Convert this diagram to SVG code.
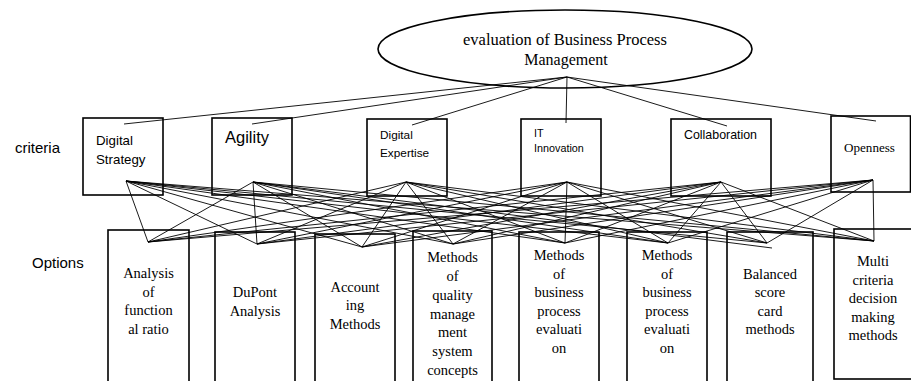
<svg xmlns="http://www.w3.org/2000/svg" width="911" height="381" viewBox="0 0 911 381">
  <style>
    .box { fill: none; stroke: #000; stroke-width: 1.6; }
    .edge { stroke: #000; stroke-width: 0.9; fill: none; }
    .sans { font-family: "Liberation Sans", Arial, sans-serif; fill: #000; }
    .serif { font-family: "Liberation Serif", "Times New Roman", serif; fill: #000; text-anchor: middle; }
    .opt { font-size: 14.5px; }
  </style>
  <rect width="911" height="381" fill="#fff"/>

  <!-- side labels -->
  <text class="sans" x="15" y="153" font-size="15">criteria</text>
  <text class="sans" x="32" y="268" font-size="15">Options</text>

  <!-- goal -->
  <g id="goal">
    <ellipse cx="565" cy="49" rx="187" ry="39" fill="none" stroke="#000" stroke-width="1.6"/>
    <text class="serif" x="565" y="45" font-size="16.5">evaluation of Business Process</text>
    <text class="serif" x="566" y="65" font-size="16">Management</text>
  </g>

  <!-- connectors -->
  <g id="connectors">
    <!-- goal to criteria -->
    <line class="edge" x1="567" y1="77" x2="124" y2="124"/>
    <line class="edge" x1="567" y1="77" x2="252" y2="124"/>
    <line class="edge" x1="567" y1="77" x2="412" y2="125"/>
    <line class="edge" x1="567" y1="77" x2="566" y2="123"/>
    <line class="edge" x1="567" y1="77" x2="727" y2="126"/>
    <line class="edge" x1="567" y1="77" x2="876" y2="121"/>

    <!-- Digital Strategy to options -->
    <line class="edge" x1="126" y1="181" x2="148" y2="242"/>
    <line class="edge" x1="126" y1="181" x2="257" y2="244"/>
    <line class="edge" x1="126" y1="181" x2="362" y2="247"/>
    <line class="edge" x1="126" y1="181" x2="453" y2="244"/>
    <line class="edge" x1="126" y1="181" x2="565" y2="243"/>
    <line class="edge" x1="126" y1="181" x2="668" y2="243"/>
    <line class="edge" x1="126" y1="181" x2="767" y2="243"/>
    <line class="edge" x1="126" y1="181" x2="874" y2="241"/>
    <!-- Agility to options -->
    <line class="edge" x1="253" y1="182" x2="148" y2="242"/>
    <line class="edge" x1="253" y1="182" x2="257" y2="244"/>
    <line class="edge" x1="253" y1="182" x2="362" y2="247"/>
    <line class="edge" x1="253" y1="182" x2="453" y2="244"/>
    <line class="edge" x1="253" y1="182" x2="565" y2="243"/>
    <line class="edge" x1="253" y1="182" x2="668" y2="243"/>
    <line class="edge" x1="253" y1="182" x2="772" y2="248"/>
    <line class="edge" x1="253" y1="182" x2="874" y2="241"/>
    <!-- Digital Expertise to options -->
    <line class="edge" x1="406" y1="182" x2="148" y2="242"/>
    <line class="edge" x1="406" y1="182" x2="257" y2="244"/>
    <line class="edge" x1="406" y1="182" x2="362" y2="247"/>
    <line class="edge" x1="406" y1="182" x2="453" y2="244"/>
    <line class="edge" x1="406" y1="182" x2="565" y2="243"/>
    <line class="edge" x1="406" y1="182" x2="668" y2="243"/>
    <line class="edge" x1="406" y1="182" x2="767" y2="243"/>
    <line class="edge" x1="406" y1="182" x2="874" y2="241"/>
    <!-- IT Innovation to options -->
    <line class="edge" x1="567" y1="182" x2="148" y2="242"/>
    <line class="edge" x1="567" y1="182" x2="257" y2="244"/>
    <line class="edge" x1="567" y1="182" x2="362" y2="247"/>
    <line class="edge" x1="567" y1="182" x2="453" y2="244"/>
    <line class="edge" x1="567" y1="182" x2="565" y2="243"/>
    <line class="edge" x1="567" y1="182" x2="668" y2="243"/>
    <line class="edge" x1="567" y1="182" x2="767" y2="243"/>
    <line class="edge" x1="567" y1="182" x2="874" y2="241"/>
    <!-- Collaboration to options -->
    <line class="edge" x1="721" y1="182" x2="148" y2="242"/>
    <line class="edge" x1="721" y1="182" x2="257" y2="244"/>
    <line class="edge" x1="721" y1="182" x2="362" y2="247"/>
    <line class="edge" x1="721" y1="182" x2="453" y2="244"/>
    <line class="edge" x1="721" y1="182" x2="565" y2="243"/>
    <line class="edge" x1="721" y1="182" x2="668" y2="243"/>
    <line class="edge" x1="721" y1="182" x2="767" y2="243"/>
    <line class="edge" x1="721" y1="182" x2="874" y2="241"/>
    <!-- Openness to options -->
    <line class="edge" x1="873" y1="180" x2="148" y2="242"/>
    <line class="edge" x1="873" y1="180" x2="257" y2="244"/>
    <line class="edge" x1="873" y1="180" x2="362" y2="247"/>
    <line class="edge" x1="873" y1="180" x2="453" y2="244"/>
    <line class="edge" x1="873" y1="180" x2="565" y2="243"/>
    <line class="edge" x1="873" y1="180" x2="668" y2="243"/>
    <line class="edge" x1="873" y1="180" x2="767" y2="243"/>
    <line class="edge" x1="873" y1="180" x2="874" y2="241"/>
  </g>

  <!-- criteria -->
  <g id="c-digital-strategy">
    <rect class="box" x="83" y="118" width="80" height="77"/>
    <text class="sans" x="96" y="145" font-size="13.3">Digital</text>
    <text class="sans" x="96" y="164" font-size="13.3">Strategy</text>
  </g>
  <g id="c-agility">
    <rect class="box" x="212" y="118" width="80" height="77"/>
    <text class="sans" x="225" y="143" font-size="16.5">Agility</text>
  </g>
  <g id="c-digital-expertise">
    <rect class="box" x="367" y="119" width="80" height="77"/>
    <text class="sans" x="380" y="139" font-size="11.8">Digital</text>
    <text class="sans" x="380" y="157" font-size="11.8">Expertise</text>
  </g>
  <g id="c-it-innovation">
    <rect class="box" x="521" y="119" width="80" height="77"/>
    <text class="sans" x="534" y="137" font-size="10.8">IT</text>
    <text class="sans" x="534" y="152" font-size="10.8">Innovation</text>
  </g>
  <g id="c-collaboration">
    <rect class="box" x="671" y="119" width="100" height="77"/>
    <text class="sans" x="684" y="139" font-size="12.4">Collaboration</text>
  </g>
  <g id="c-openness">
    <rect class="box" x="831" y="116" width="79.5" height="76"/>
    <text class="serif" x="869.5" y="152" font-size="13.1">Openness</text>
  </g>

  <!-- options -->
  <g id="o-functional-ratio">
    <rect class="box" x="108" y="230" width="81" height="160"/>
    <text class="serif opt" x="148.5" y="278">Analysis</text>
    <text class="serif opt" x="148.5" y="297">of</text>
    <text class="serif opt" x="148.5" y="315">function</text>
    <text class="serif opt" x="148.5" y="334">al ratio</text>
  </g>
  <g id="o-dupont">
    <rect class="box" x="215" y="232" width="80" height="160"/>
    <text class="serif opt" x="255" y="297">DuPont</text>
    <text class="serif opt" x="255" y="316">Analysis</text>
  </g>
  <g id="o-accounting">
    <rect class="box" x="315" y="234" width="80" height="160"/>
    <text class="serif opt" x="355" y="292">Account</text>
    <text class="serif opt" x="355" y="310">ing</text>
    <text class="serif opt" x="355" y="329">Methods</text>
  </g>
  <g id="o-quality">
    <rect class="box" x="413" y="231" width="79" height="160"/>
    <text class="serif opt" x="452.5" y="262">Methods</text>
    <text class="serif opt" x="452.5" y="281">of</text>
    <text class="serif opt" x="452.5" y="300">quality</text>
    <text class="serif opt" x="452.5" y="319">manage</text>
    <text class="serif opt" x="452.5" y="337">ment</text>
    <text class="serif opt" x="452.5" y="356">system</text>
    <text class="serif opt" x="452.5" y="375">concepts</text>
  </g>
  <g id="o-bp-evaluation-1">
    <rect class="box" x="519" y="232" width="80" height="160"/>
    <text class="serif opt" x="559" y="260">Methods</text>
    <text class="serif opt" x="559" y="279">of</text>
    <text class="serif opt" x="559" y="297">business</text>
    <text class="serif opt" x="559" y="316">process</text>
    <text class="serif opt" x="559" y="334">evaluati</text>
    <text class="serif opt" x="559" y="353">on</text>
  </g>
  <g id="o-bp-evaluation-2">
    <rect class="box" x="627" y="232" width="80" height="160"/>
    <text class="serif opt" x="667" y="260">Methods</text>
    <text class="serif opt" x="667" y="279">of</text>
    <text class="serif opt" x="667" y="297">business</text>
    <text class="serif opt" x="667" y="316">process</text>
    <text class="serif opt" x="667" y="334">evaluati</text>
    <text class="serif opt" x="667" y="353">on</text>
  </g>
  <g id="o-balanced-scorecard">
    <rect class="box" x="727" y="232" width="86" height="160"/>
    <text class="serif opt" x="770" y="279">Balanced</text>
    <text class="serif opt" x="770" y="297">score</text>
    <text class="serif opt" x="770" y="316">card</text>
    <text class="serif opt" x="770" y="334">methods</text>
  </g>
  <g id="o-mcdm">
    <rect class="box" x="834" y="229" width="78" height="150"/>
    <text class="serif opt" x="873" y="266">Multi</text>
    <text class="serif opt" x="873" y="285">criteria</text>
    <text class="serif opt" x="873" y="303">decision</text>
    <text class="serif opt" x="873" y="322">making</text>
    <text class="serif opt" x="873" y="340">methods</text>
  </g>
</svg>
